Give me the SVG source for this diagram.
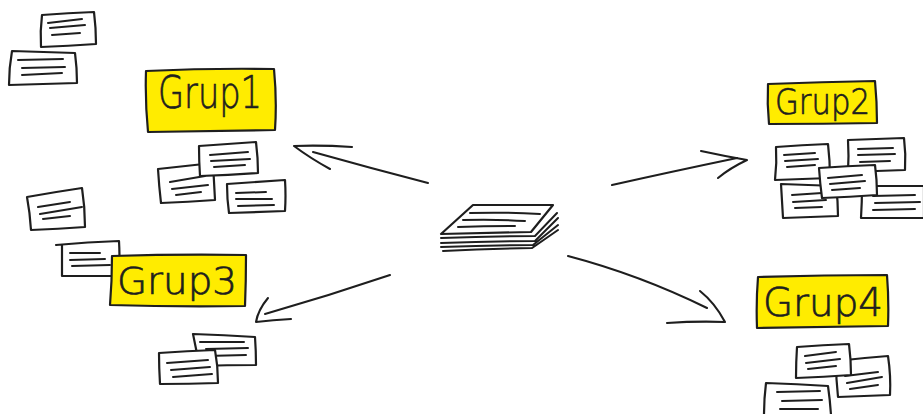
<svg xmlns="http://www.w3.org/2000/svg" width="923" height="414" viewBox="0 0 923 414">
<style>
.card{fill:#fff;stroke:#1e1e1e;stroke-width:2.2;stroke-linejoin:round;stroke-linecap:round}
.ln{fill:none;stroke:#1e1e1e;stroke-width:2;stroke-linecap:round}
.tag{fill:#ffec00;stroke:#1e1e1e;stroke-width:2.2;stroke-linejoin:round}
.lbl{font-family:"DejaVu Sans","Liberation Sans",sans-serif;font-weight:200;fill:#1e1e1e;stroke:#1e1e1e;stroke-width:0.7}
.arr{fill:none;stroke:#1e1e1e;stroke-width:2.1;stroke-linecap:round;stroke-linejoin:round}
</style>
<rect width="923" height="414" fill="#fff"/>

<g id="cards-left-top">
<g id="cardA"><path class="card" d="M42,15 Q68,13 94,12 Q96,28 96,44 Q68,46 41,47 Q40,31 42,15Z"/><path class="ln" d="M48,23 L82,19 M50,28 L85,25 M52,35 L80,33"/></g>
<g id="cardB"><path class="card" d="M12,51 Q44,52 75,53 Q77,68 77,83 Q43,84 9,85 Q9,68 12,51Z"/><path class="ln" d="M18,60 L63,59 M22,68 L65,67 M22,75 L62,73"/></g>
</g>

<g id="grup1">
<path class="tag" d="M146,71 Q210,68 274,69 Q277,100 275,130 Q211,131 148,132 Q145,101 146,71Z"/>
<text class="lbl" x="158" y="108" font-size="45" textLength="104" lengthAdjust="spacingAndGlyphs">Grup1</text>
</g>
<g id="cards-grup1">
<g id="cardC"><path class="card" d="M158,169 Q185,166 213,163 Q214,182 215,200 Q188,202 161,203 Q159,186 158,169Z"/><path class="ln" d="M170,182 L205,176 M172,189 L208,185 M176,195 L201,192"/></g>
<g id="cardD"><path class="card" d="M199,146 Q228,144 256,142 Q258,158 258,173 Q229,175 200,176 Q199,161 199,146Z"/><path class="ln" d="M210,155 L248,152 M211,161 L250,159 M214,167 L245,165"/></g>
<g id="cardE"><path class="card" d="M227,184 Q256,182 285,180 Q286,196 285,211 Q257,212 229,213 Q227,199 227,184Z"/><path class="ln" d="M236,193 L266,192 M236,199 L272,199 M238,206 L274,205"/></g>
</g>

<g id="cards-left-mid">
<g id="cardF"><path class="card" d="M27,197 Q55,192 82,188 Q85,207 85,227 Q58,229 31,230 Q30,213 27,197Z"/><path class="ln" d="M38,207 L70,202 M40,214 L82,207 M43,219 L70,216"/></g>
<g id="cardG"><path class="card" d="M56,245 Q88,242 119,241 Q120,258 119,276 Q90,276 62,276 Q62,260 62,245"/><path class="ln" d="M70,253 L100,253 M70,260 L105,259 M72,266 L110,265"/></g>
</g>

<g id="grup3">
<path class="tag" d="M112,256 Q179,254 246,255 Q246,281 245,306 Q177,307 110,305 Q112,281 112,256Z"/>
<text class="lbl" x="117" y="294" font-size="37" textLength="120" lengthAdjust="spacingAndGlyphs">Grup3</text>
</g>
<g id="cards-grup3">
<g id="cardH"><path class="card" d="M193,334 Q224,335 255,337 Q256,351 256,365 Q227,365 198,366 Q197,350 193,334Z"/><path class="ln" d="M200,342 L244,342 M206,349 L248,348 M206,356 L246,355"/></g>
<g id="cardI"><path class="card" d="M159,353 Q187,351 215,350 Q218,366 218,383 Q189,384 160,384 Q159,368 159,353Z"/><path class="ln" d="M167,363 L208,360 M171,370 L210,367 M173,377 L212,374"/></g>
</g>

<g id="stack">
<path class="card" d="M473,205 L553,205 L531,232 L441,234Z"/>
<path class="ln" d="M470,213 Q505,212 540,214 M463,220 Q494,219 525,221 M458,227 Q486,226 515,226"/>
<path class="ln" d="M441,238 Q488,236 535,236 L557,213 M441,243 Q488,241 535,241 L558,218 M441,247 Q488,245 533,245 L558,225 M443,251 Q488,249 532,248 L558,230"/>
</g>

<g id="grup2">
<path class="tag" d="M768,84 Q822,82 875,81 Q877,102 877,123 Q823,124 769,124 Q767,104 768,84Z"/>
<text class="lbl" x="775" y="114" font-size="36" textLength="95" lengthAdjust="spacingAndGlyphs">Grup2</text>
</g>
<g id="cards-grup2">
<g id="cardL"><path class="card" d="M781,184 Q808,185 836,186 Q838,201 838,216 Q810,217 783,218 Q782,201 781,184Z"/><path class="ln" d="M792,195 L822,193 M793,202 L826,200 M795,208 L822,207"/></g>
<g id="cardM"><path class="card" d="M862,186 Q892,186 924,186 L924,218 Q892,218 861,218 Q862,202 862,186Z"/><path class="ln" d="M873,196 L915,195 M875,203 L920,202 M873,210 L915,209"/></g>
<g id="cardJ"><path class="card" d="M776,147 Q802,145 828,144 Q830,161 830,178 Q803,179 775,180 Q777,163 776,147Z"/><path class="ln" d="M784,155 L815,153 M785,161 L818,159 M787,167 L815,165"/></g>
<g id="cardK"><path class="card" d="M848,140 Q876,139 904,138 Q906,154 905,170 Q876,171 848,172 Q849,156 848,140Z"/><path class="ln" d="M858,149 L893,148 M858,155 L895,154 M860,162 L890,161"/></g>
<g id="cardN"><path class="card" d="M819,168 Q847,166 875,165 Q877,180 877,195 Q850,197 822,198 Q820,183 819,168Z"/><path class="ln" d="M828,178 L862,175 M830,184 L865,181 M832,190 L860,188"/></g>
</g>

<g id="grup4">
<path class="tag" d="M758,277 Q822,275 887,275 Q889,300 888,326 Q822,327 757,328 Q756,302 758,277Z"/>
<text class="lbl" x="763" y="316" font-size="39" textLength="120" lengthAdjust="spacingAndGlyphs">Grup4</text>
</g>
<g id="cards-grup4">
<g id="cardP"><path class="card" d="M836,361 Q862,358 888,356 Q891,376 890,395 Q864,396 838,397 Q836,379 836,361Z"/><path class="ln" d="M845,376 L878,372 M847,383 L882,377 M850,389 L878,385"/></g>
<g id="cardO"><path class="card" d="M797,347 Q823,345 849,344 Q851,360 851,375 Q824,377 796,378 Q796,362 797,347Z"/><path class="ln" d="M805,356 L836,352 M806,363 L840,359 M808,369 L836,366"/></g>
<g id="cardQ"><path class="card" d="M766,383 Q797,384 828,386 Q830,400 831,415 L764,415 Q764,399 766,383Z"/><path class="ln" d="M777,392 L820,391 M782,401 L822,400 M780,409 L818,409"/></g>
</g>

<g id="connectors">
<path class="arr" d="M428,183 Q370,168 313,152"/>
<path class="arr" d="M352,147 Q322,145 294,146 Q310,158 330,169"/>
<path class="arr" d="M390,275 Q328,296 265,314"/>
<path class="arr" d="M268,298 Q258,310 256,322 Q273,320 291,319"/>
<path class="arr" d="M612,185 Q670,172 737,158"/>
<path class="arr" d="M701,151 Q724,156 747,160 Q730,168 718,178"/>
<path class="arr" d="M568,256 Q640,275 707,308"/>
<path class="arr" d="M700,291 Q715,303 725,322 Q697,321 667,323"/>
</g>
</svg>
